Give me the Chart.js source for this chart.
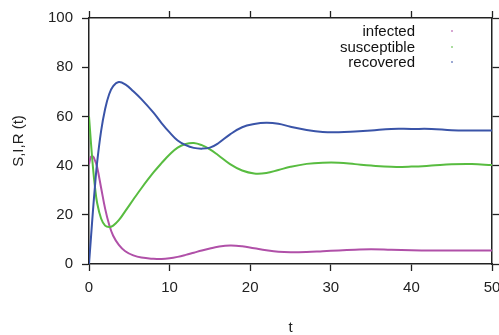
<!DOCTYPE html>
<html>
<head>
<meta charset="utf-8">
<script src="https://cdn.jsdelivr.net/npm/chart.js@4"></script>
<style>
    html, body { margin: 0; padding: 0; overflow: hidden; background: #fff; }
    #wrap { position: relative; width: 520px; height: 335px; }
    #legend { position: absolute; left: 300px; top: 23px; font: 15px "Liberation Sans", Arial, sans-serif; color: #111; }
    #legend .row { position: relative; height: 15.5px; line-height: 15.5px; }
    #legend .label { display: block; width: 115px; text-align: right; }
    #legend .dot { position: absolute; left: 151px; top: 7px; width: 2px; height: 2px; opacity: 0.5; }
</style>
</head>
<body>
<div id="wrap">
    <canvas id="sir-chart"></canvas>
    <div id="legend"></div>
</div>
<script>
// Data
const times = [0, 0.25, 0.5, 0.75, 1, 1.5, 2, 2.5, 3, 3.7, 4.5, 5.5, 6.5, 8, 9, 10, 11, 12, 13, 14,
    15, 16, 17.5, 19, 20.5, 22, 23.5, 25, 27, 29, 31, 33, 35, 37.5, 40, 42.5, 45, 47.5, 50];
const infected = [40.5, 43.6, 43.7, 42, 39.5, 31, 22.5, 16, 11.5, 7.8, 5.2, 3.5, 2.6, 2.1, 2.0, 2.3, 2.9, 3.7, 4.6, 5.5,
    6.3, 7, 7.5, 7.2, 6.4, 5.6, 5.0, 4.8, 4.9, 5.2, 5.5, 5.8, 6.0, 5.8, 5.6, 5.5, 5.5, 5.5, 5.5];
const susceptible = [60, 49, 39, 31, 25, 18.5, 15.6, 15, 15.6, 17.8, 21.5, 26.2, 30.8, 37.2, 41, 44.5, 47.3, 48.8, 49.2, 48.3,
    46.6, 44.3, 40.6, 38, 36.8, 37, 38.2, 39.5, 40.7, 41.2, 41.2, 40.6, 40, 39.5, 39.6, 40, 40.5, 40.6, 40.2];
const recovered = [0, 11, 22, 32, 41, 54, 63, 69, 72.3, 74, 73.0, 70.2, 67, 61.5, 57.3, 53.5, 50.2, 48.3, 47.2, 46.9,
    47.3, 49, 52.7, 55.6, 56.9, 57.4, 57, 55.8, 54.5, 53.7, 53.6, 53.9, 54.3, 54.9, 54.9, 54.9, 54.4, 54.3, 54.3];

const xTicks = [0, 10, 20, 30, 40, 50];
const yTicks = [0, 20, 40, 60, 80, 100];
const seriesNames = ["infected", "susceptible", "recovered"];
const seriesColors = ["#b050a8", "#58bc40", "#3a54a8"];

const fontFamily = '"Liberation Sans", Arial, sans-serif';
const axisColor = "#222";

// Turn one value list into x/y points
function toPoints(values) {
    return values.map((v, i) => ({ x: times[i], y: v }));
}

const seriesValues = [infected, susceptible, recovered];

const datasets = seriesNames.map((name, i) => ({
    label: name,
    data: toPoints(seriesValues[i]),
    borderColor: seriesColors[i],
    borderWidth: 2,
    pointRadius: 0,
    fill: false,
    tension: 0.4,
    order: 3 - i,
}));

// Axis with outward ticks and no grid on the plot
function frameAxis(position, extra) {
    return Object.assign({
        type: "linear",
        position: position,
        grid: {
            display: true,
            drawOnChartArea: false,
            drawTicks: true,
            tickLength: 7,
            tickColor: axisColor,
            tickWidth: 1.3,
        },
        border: { display: true, color: axisColor, width: 1.5 },
    }, extra);
}

const chart = new Chart(document.getElementById("sir-chart"), {
    type: "line",
    data: { datasets: datasets },
    options: {
        responsive: true,
        maintainAspectRatio: false,
        animation: false,
        layout: { padding: 0 },
        plugins: {
            legend: { display: false },
            tooltip: { enabled: false },
        },
        scales: {
            x: frameAxis("bottom", {
                min: 0,
                max: 50,
                afterBuildTicks: (s) => { s.ticks = xTicks.map((v) => ({ value: v })); },
                ticks: { color: axisColor, padding: 8, maxRotation: 0, font: { family: fontFamily, size: 15 } },
                title: { display: true, text: "t", color: axisColor, padding: { top: 0, bottom: -2 }, font: { family: fontFamily, size: 15 } },
                afterFit: (s) => { s.height = 71; },
            }),
            x2: frameAxis("top", {
                min: 0,
                max: 50,
                afterBuildTicks: (s) => { s.ticks = xTicks.map((v) => ({ value: v })); },
                ticks: { display: false },
                afterFit: (s) => { s.height = 15; },
            }),
            y: frameAxis("left", {
                min: 0,
                max: 100,
                afterBuildTicks: (s) => { s.ticks = yTicks.map((v) => ({ value: v })); },
                ticks: { color: axisColor, padding: 9, font: { family: fontFamily, size: 15 } },
                title: { display: true, text: "S,I,R (t)", color: axisColor, padding: { top: 10, bottom: 0 }, font: { family: fontFamily, size: 15 } },
                afterFit: (s) => { s.width = 89; },
            }),
            y2: frameAxis("right", {
                min: 0,
                max: 100,
                afterBuildTicks: (s) => { s.ticks = yTicks.map((v) => ({ value: v })); },
                ticks: { display: false },
                afterFit: (s) => { s.width = 28; },
            }),
        },
    },
});

// Legend: text on the left, small sample dot on the right
const legend = document.getElementById("legend");
seriesNames.forEach((name, i) => {
    const row = document.createElement("div");
    row.className = "row";
    const label = document.createElement("span");
    label.className = "label";
    label.textContent = name;
    const dot = document.createElement("span");
    dot.className = "dot";
    dot.style.background = seriesColors[i];
    row.appendChild(label);
    row.appendChild(dot);
    legend.appendChild(row);
});
</script>
</body>
</html>
